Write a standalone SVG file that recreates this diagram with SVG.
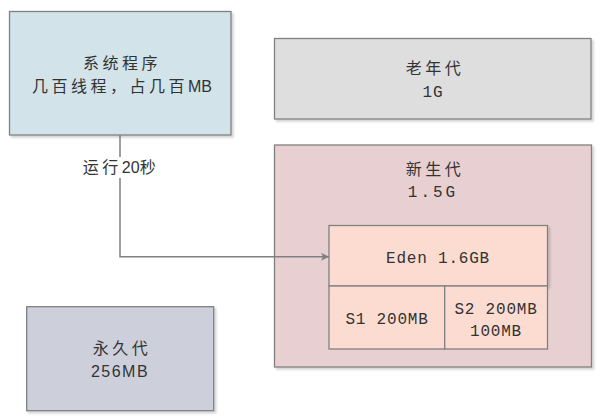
<svg xmlns="http://www.w3.org/2000/svg" width="606" height="419" viewBox="0 0 606 419">
<defs>
<filter id="sh" x="-5%" y="-5%" width="115%" height="115%">
<feDropShadow dx="2" dy="2" stdDeviation="1.2" flood-color="#000" flood-opacity="0.18"/>
</filter>
<marker id="arr" markerWidth="10" markerHeight="10" refX="8" refY="5" orient="auto" markerUnits="userSpaceOnUse">
<path d="M0,1 L8,5 L0,9 L2,5 Z" fill="#808080"/>
</marker>
</defs>
<style>
.box{stroke:#808080;stroke-width:1.3;}
.cjk{font-family:"Noto Sans CJK SC",sans-serif;font-size:16px;letter-spacing:3.5px;fill:#333;text-anchor:middle;}
.mono{font-family:"Liberation Mono",monospace;font-size:16px;letter-spacing:0.8px;fill:#333;text-anchor:middle;}
.sans{font-family:"Liberation Sans",sans-serif;font-size:16px;letter-spacing:1.5px;fill:#333;text-anchor:middle;}
.line{stroke:#808080;stroke-width:1.5;fill:none;}
</style>
<rect width="606" height="419" fill="#fff"/>
<g id="system">
<rect class="box" x="9.5" y="11.5" width="221.5" height="123.5" fill="#d2e3ea" filter="url(#sh)"/>
<text class="cjk" x="122" y="69">系统程序</text>
<text class="cjk" x="122" y="92">几百线程，占几百<tspan class="sans" style="letter-spacing:0">MB</tspan></text>
</g>
<g id="oldgen">
<rect class="box" x="274.5" y="38.5" width="316.5" height="80.5" fill="#dedede" filter="url(#sh)"/>
<text class="cjk" x="435" y="74">老年代</text>
<text class="mono" x="433" y="97">1G</text>
</g>
<g id="newgen">
<rect class="box" x="274.5" y="145" width="317" height="222" fill="#e8d0d2" filter="url(#sh)"/>
<text class="cjk" x="435" y="175">新生代</text>
<text class="mono" x="433" y="197" style="letter-spacing:3px">1.5G</text>
</g>
<g id="eden">
<rect class="box" x="329" y="225.5" width="218.5" height="60.5" fill="#fcdcd0" filter="url(#sh)"/>
<text class="mono" x="438" y="262.5">Eden 1.6GB</text>
</g>
<g id="s1">
<rect class="box" x="329" y="286" width="115.7" height="63" fill="#fcdcd0"/>
<text class="mono" x="387" y="323.5">S1 200MB</text>
</g>
<g id="s2">
<rect class="box" x="444.7" y="286" width="102.8" height="63" fill="#fcdcd0"/>
<text class="mono" x="496" y="313.5">S2 200MB</text>
<text class="mono" x="496" y="335.5">100MB</text>
</g>
<g id="permgen">
<rect class="box" x="26.7" y="306.7" width="187" height="104" fill="#cdd0db" filter="url(#sh)"/>
<text class="cjk" x="122" y="353.5">永久代</text>
<text class="sans" x="120" y="376.5">256MB</text>
</g>
<g id="connectors">
<path class="line" d="M120,135 L120,256.7 L329,256.7" marker-end="url(#arr)"/>
<rect x="80" y="157" width="80" height="21" fill="#fff"/>
<text class="cjk" x="121" y="172.5">运行<tspan class="sans" style="letter-spacing:0">20</tspan>秒</text>
</g>
</svg>
